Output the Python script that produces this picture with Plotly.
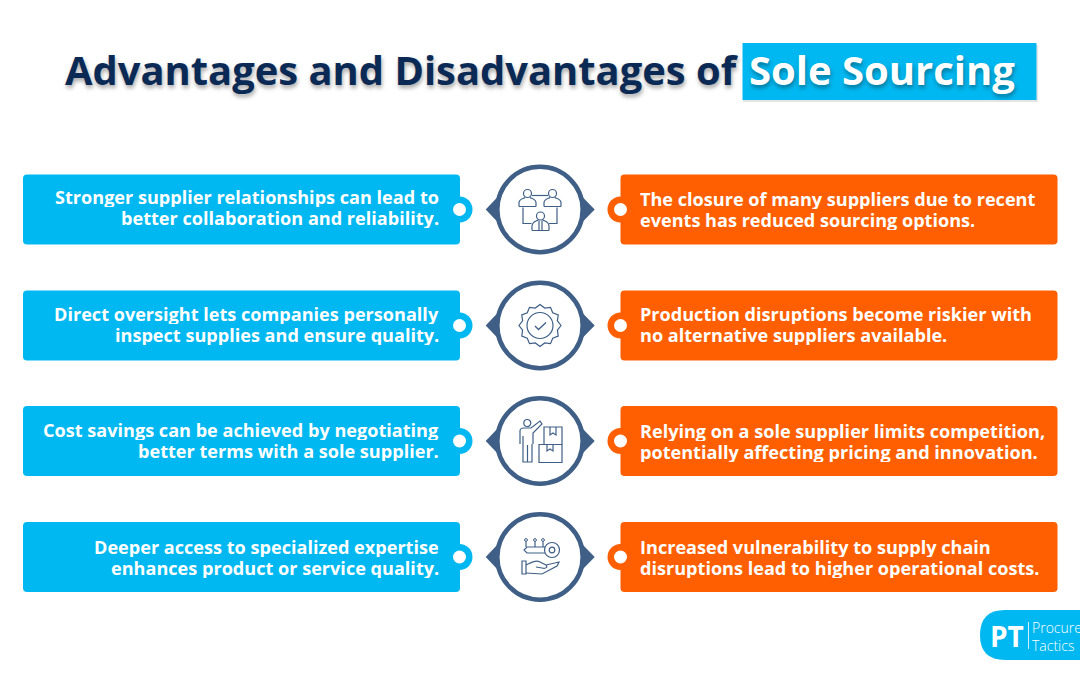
import math
import plotly.graph_objects as go

TITLE_DARK = "Advantages and Disadvantages of"
TITLE_HIGHLIGHT = "Sole Sourcing"
ADVANTAGES = [
    ["Stronger supplier relationships can lead to", "better collaboration and reliability."],
    ["Direct oversight lets companies personally", "inspect supplies and ensure quality."],
    ["Cost savings can be achieved by negotiating", "better terms with a sole supplier."],
    ["Deeper access to specialized expertise", "enhances product or service quality."],
]
DISADVANTAGES = [
    ["The closure of many suppliers due to recent", "events has reduced sourcing options."],
    ["Production disruptions become riskier with", "no alternative suppliers available."],
    ["Relying on a sole supplier limits competition,", "potentially affecting pricing and innovation."],
    ["Increased vulnerability to supply chain", "disruptions lead to higher operational costs."],
]
LOGO_MARK = "PT"
LOGO_WORDS = ["Procure", "Tactics"]

BLUE = "#00B8F1"
ORANGE = "#FF5F00"
NAVY = "#0A2A55"
RING = "#3F5F87"
FONT = "Open Sans"
ROW_Y = [209.5, 325.5, 441, 557]
LEFT_NUDGE = [-2, -1, 0, 1]
RIGHT_NUDGE = [0, -1, 0, 0]
W, H = 1080, 675
shapes, anns = [], []


def rrect(x0, y0, x1, y1, r, fill):
    p = (f"M{x0+r},{y0} L{x1-r},{y0} Q{x1},{y0} {x1},{y0+r} L{x1},{y1-r} Q{x1},{y1} {x1-r},{y1} "
         f"L{x0+r},{y1} Q{x0},{y1} {x0},{y1-r} L{x0},{y0+r} Q{x0},{y0} {x0+r},{y0} Z")
    shapes.append(dict(type="path", path=p, fillcolor=fill, line=dict(width=0)))


def circ(cx, cy, r, fill=None, line=None, lw=0):
    shapes.append(dict(type="circle", x0=cx - r, x1=cx + r, y0=cy - r, y1=cy + r,
                       fillcolor=fill or "rgba(0,0,0,0)",
                       line=dict(color=line or "rgba(0,0,0,0)", width=lw)))


def poly(points, fill):
    p = "M" + " L".join(f"{x},{y}" for x, y in points) + " Z"
    shapes.append(dict(type="path", path=p, fillcolor=fill, line=dict(width=0)))


def stroke(path, lw=1.2):
    shapes.append(dict(type="path", path=path, line=dict(color=RING, width=lw)))


def text(x, y, s, size, color, anchor="left", weight=600, shadow=None, height=None):
    f = dict(family=FONT, size=size, color=color, weight=weight)
    if shadow:
        f["shadow"] = shadow
    a = dict(x=x, y=y, text=s, showarrow=False, xanchor=anchor, yanchor="middle",
             font=f, borderpad=0, xref="x", yref="y")
    if height:
        a["height"] = height
    anns.append(a)


def person(cx, cy, head_r, width, body_h):
    circ(cx, cy, head_r, None, RING, 1.2)
    t = cy + head_r
    b = t + body_h
    hw = width / 2
    stroke(f"M{cx-hw},{b} L{cx-hw},{t+body_h*0.6} C{cx-hw},{t+1} {cx-hw*0.4},{t+1} {cx-hw*0.3},{t} "
           f"M{cx+hw},{b} L{cx+hw},{t+body_h*0.6} C{cx+hw},{t+1} {cx+hw*0.4},{t+1} {cx+hw*0.3},{t} "
           f"M{cx-hw},{b} L{cx+hw},{b}")


def icon_team(cx, cy):
    person(cx - 12.5, cy - 16, 4, 17, 9)
    person(cx + 12.5, cy - 16, 4, 17, 9)
    person(cx + 0.5, cy + 6.5, 4, 17, 10.5)
    stroke(f"M{cx-8},{cy-14} L{cx+8},{cy-14}")
    stroke(f"M{cx-17},{cy-2} L{cx-17},{cy+14} L{cx-8.5},{cy+14}")
    stroke(f"M{cx+17},{cy-2} L{cx+17},{cy+14} L{cx+9},{cy+14}")
    stroke(f"M{cx-1},{cy+11} L{cx-1},{cy+21} M{cx+2},{cy+11} L{cx+2},{cy+21}")


def icon_badge(cx, cy):
    pts = []
    for i in range(24):
        a = math.pi * 2 * i / 24 - math.pi / 2
        r = 21 if i % 2 == 0 else 18
        pts.append(f"{cx + r*math.cos(a):.1f},{cy + r*math.sin(a):.1f}")
    stroke("M" + " L".join(pts) + " Z")
    circ(cx, cy, 13, None, RING, 1.2)
    stroke(f"M{cx-5},{cy+0.5} L{cx-1.5},{cy+4} L{cx+6},{cy-3}", 1.3)


def icon_boxes(cx, cy):
    circ(cx - 12.7, cy - 18, 3.5, None, RING, 1.2)
    stroke(f"M{cx-20},{cy+3} L{cx-20},{cy-10} Q{cx-20},{cy-13} {cx-16},{cy-13} L{cx-9},{cy-13} "
           f"L{cx+0},{cy-20} L{cx+2},{cy-17} L{cx-7},{cy-8} L{cx-7},{cy+3} "
           f"M{cx-17},{cy-5} L{cx-17},{cy+21} L{cx-12.5},{cy+21} L{cx-12.5},{cy+4} "
           f"M{cx-12.5},{cy+21} L{cx-8},{cy+21} L{cx-8},{cy+3}")
    stroke(f"M{cx+4},{cy-14} L{cx+22},{cy-14} L{cx+22},{cy+3.5} L{cx+4},{cy+3.5} Z "
           f"M{cx-1},{cy+3.5} L{cx+22},{cy+3.5} L{cx+22},{cy+21.5} L{cx-1},{cy+21.5} Z")
    stroke(f"M{cx+10},{cy-14} L{cx+10},{cy-6} L{cx+13},{cy-8} L{cx+16},{cy-6} L{cx+16},{cy-14} "
           f"M{cx+7},{cy+3.5} L{cx+7},{cy+10} L{cx+10},{cy+8} L{cx+13},{cy+10} L{cx+13},{cy+3.5}")


def icon_key(cx, cy):
    circ(cx + 12, cy - 7, 7.5, None, RING, 1.2)
    circ(cx + 12, cy - 7, 2.8, None, RING, 1.2)
    stroke(f"M{cx+5},{cy-10} L{cx-13},{cy-10} L{cx-16},{cy-7} L{cx-13},{cy-4} L{cx+5},{cy-4}")
    for dx, dy in [(-14, -17), (-5, -17), (3, -17)]:
        circ(cx + dx, cy + dy, 1.4, None, RING, 1)
        stroke(f"M{cx+dx},{cy+dy+1.4} L{cx+dx},{cy-10}")
    stroke(f"M{cx-18},{cy+4} L{cx-14},{cy+4} L{cx-14},{cy+17} L{cx-18},{cy+17} Z")
    stroke(f"M{cx-14},{cy+8} C{cx-8},{cy+5} {cx-4},{cy+3} {cx},{cy+5} L{cx+6},{cy+8} "
           f"C{cx+8},{cy+10} {cx+6},{cy+12} {cx+2},{cy+11} L{cx-4},{cy+10} "
           f"M{cx+6},{cy+8} L{cx+19},{cy+5} L{cx+17},{cy+9} L{cx+2},{cy+17} L{cx-14},{cy+16}")


ICONS = [icon_team, icon_badge, icon_boxes, icon_key]

shapes.append(dict(type="rect", x0=743, x1=1038, y0=45, y1=102, fillcolor="rgba(0,0,0,0.10)", line=dict(width=0)))
shapes.append(dict(type="rect", x0=742.5, x1=1036.5, y0=43, y1=100, fillcolor=BLUE, line=dict(width=0)))
SH = "1px 3px 4px rgba(0,0,0,0.35)"
text(740, 69, TITLE_DARK, 39.9, NAVY, "right", 700, SH)
text(748, 69, TITLE_HIGHLIGHT, 40, "white", "left", 700, SH)

for i, y in enumerate(ROW_Y):
    rrect(23, y - 35, 460, y + 35, 4, BLUE)
    rrect(620.5, y - 35, 1057.5, y + 35, 4, ORANGE)
    circ(459.5, y, 13, BLUE)
    circ(459.5, y, 6.5, "white")
    circ(620.5, y, 13, ORANGE)
    circ(620.5, y, 6.5, "white")
    poly([(485.7, y), (499, y - 14), (499, y + 14)], RING)
    poly([(594.7, y), (581, y - 14), (581, y + 14)], RING)
    circ(540, y, 42.7, "white", RING, 4.6)
    ICONS[i](540, y)
    for j, line in enumerate(ADVANTAGES[i]):
        text(440, y - 11 + LEFT_NUDGE[i] + 21 * j, line, 18.1, "white", "right", 700, height=20)
    for j, line in enumerate(DISADVANTAGES[i]):
        text(638.5, y - 10.5 + RIGHT_NUDGE[i] + 21 * j, line, 18.1, "white", "left", 700, height=20)

shapes.append(dict(type="path", fillcolor=BLUE, line=dict(width=0),
                   path="M1005,610 L1080,610 L1080,660 L1005,660 Q980,660 980,635 Q980,610 1005,610 Z"))
shapes.append(dict(type="line", x0=1028.5, x1=1028.5, y0=622, y1=649, line=dict(color="white", width=0.8)))
text(989, 635.5, LOGO_MARK, 28, "white", "left", 700)
text(1031, 627.5, LOGO_WORDS[0], 14, "white", "left", 300)
text(1031, 645, LOGO_WORDS[1], 14, "white", "left", 300)

fig = go.Figure()
fig.update_layout(width=W, height=H, margin=dict(l=0, r=0, t=0, b=0), paper_bgcolor="white",
                  plot_bgcolor="white", showlegend=False, shapes=shapes, annotations=anns,
                  xaxis=dict(range=[0, W], visible=False, fixedrange=True),
                  yaxis=dict(range=[H, 0], visible=False, fixedrange=True))
fig.write_html("out.html", config=dict(displayModeBar=False),
               post_script="document.body.style.margin='0';")
